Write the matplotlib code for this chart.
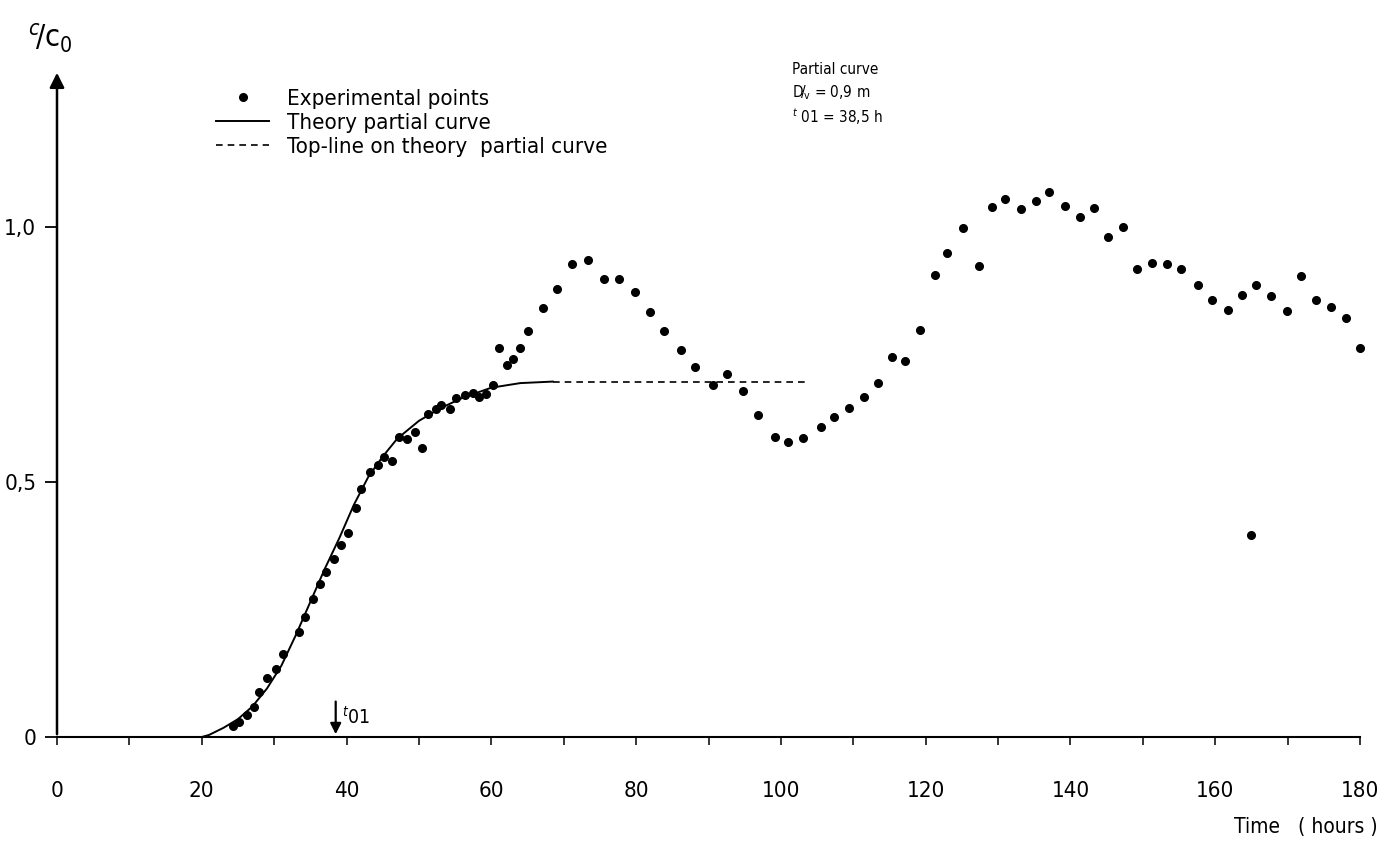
import matplotlib
matplotlib.use("Agg")
import matplotlib.pyplot as plt

plt.rcParams['font.family'] = ['DejaVu Sans']
plt.rcParams['font.stretch'] = 'condensed'

# Experimental points (time in hours, C/C0)
exp_t = [24.3, 25.2, 26.3, 27.2, 27.9, 29.0, 30.2, 31.2, 33.4, 34.2, 35.3, 36.3,
         37.2, 38.2, 39.3, 40.2, 41.3, 42.0, 43.2, 44.3, 45.2, 46.3, 47.3, 48.3,
         49.4, 50.4, 51.2, 52.3, 53.0, 54.3, 55.1, 56.3, 57.4, 58.3, 59.3, 60.2,
         61.1, 62.2, 63.0, 64.0, 65.1, 67.1, 69.1, 71.1, 73.4, 75.5, 77.6, 79.9,
         81.9, 83.9, 86.2, 88.2, 90.6, 92.6, 94.7, 96.8, 99.2, 101.0, 103.1, 105.6,
         107.3, 109.4, 111.5, 113.4, 115.4, 117.2, 119.2, 121.3, 123.0, 125.2, 127.3,
         129.1, 131.0, 133.2, 135.3, 137.1, 139.2, 141.3, 143.2, 145.2, 147.2, 149.2,
         151.2, 153.3, 155.3, 157.6, 159.6, 161.7, 163.7, 165.7, 167.7, 169.9, 171.8,
         173.9, 176.0, 178.0, 180.0, 165.0]
exp_c = [0.022, 0.030, 0.044, 0.059, 0.088, 0.115, 0.134, 0.162, 0.205, 0.236, 0.271, 0.300,
         0.323, 0.350, 0.377, 0.401, 0.450, 0.486, 0.519, 0.534, 0.550, 0.541, 0.588, 0.585,
         0.598, 0.566, 0.634, 0.644, 0.652, 0.644, 0.664, 0.671, 0.675, 0.666, 0.672, 0.690,
         0.763, 0.729, 0.742, 0.762, 0.796, 0.842, 0.878, 0.927, 0.935, 0.899, 0.898, 0.872,
         0.833, 0.796, 0.759, 0.726, 0.690, 0.712, 0.678, 0.631, 0.588, 0.578, 0.586, 0.607,
         0.627, 0.646, 0.666, 0.695, 0.745, 0.738, 0.799, 0.906, 0.950, 0.999, 0.924,
         1.039, 1.055, 1.036, 1.052, 1.069, 1.042, 1.020, 1.037, 0.981, 1.001, 0.917,
         0.929, 0.927, 0.918, 0.887, 0.856, 0.838, 0.867, 0.887, 0.864, 0.835, 0.904,
         0.856, 0.843, 0.822, 0.763, 0.396]

# Theory partial curve
theory_t = [0, 20, 21, 23, 25, 27, 29, 31, 33, 35, 37, 39, 41, 43, 45, 47, 50, 53, 56, 60, 64, 68.5]
theory_c = [0, 0, 0.004, 0.018, 0.035, 0.060, 0.095, 0.14, 0.20, 0.265, 0.33, 0.39, 0.455,
            0.51, 0.55, 0.585, 0.62, 0.645, 0.665, 0.685, 0.694, 0.697]

# Top-line on theory partial curve
top_t = [68.5, 103.5]
top_c = [0.697, 0.697]

t01 = 38.5

fig = plt.figure(figsize=(13.82, 8.43), dpi=100)
ax = fig.add_axes([57 / 1382, 106 / 843, (1360 - 57) / 1382, (737 - 70) / 843])
ax.set_xlim(0, 180)
ax.set_ylim(0, 1.308)

pts, = ax.plot(exp_t, exp_c, 'o', color='black', markersize=5.5, linestyle='none',
               label='Experimental points', clip_on=False)
th, = ax.plot(theory_t, theory_c, '-', color='black', lw=1.4, label='Theory partial curve')
tl, = ax.plot(top_t, top_c, color='black', lw=1.2, linestyle=(0, (4, 3)),
              label='Top-line on theory  partial curve')

# axes styling
for s in ['top', 'right', 'left']:
    ax.spines[s].set_visible(False)
ax.spines['bottom'].set_linewidth(1.5)
ax.annotate('', xy=(0, 1.308), xytext=(0, 0), xycoords='data',
            arrowprops=dict(arrowstyle='-|>', color='black', lw=1.8, mutation_scale=22),
            annotation_clip=False)

ax.set_xticks(range(0, 181, 10))
ax.set_xticklabels([str(v) if v % 20 == 0 else '' for v in range(0, 181, 10)])
ax.tick_params(axis='x', direction='out', length=6, width=1.1, pad=26, labelsize=16)
ax.set_yticks([0, 0.5, 1.0])
ax.set_yticklabels(['0', '0,5', '1,0'])
ax.tick_params(axis='y', direction='out', length=9, width=1.3, pad=6, labelsize=16)

fig.text(1378 / 1382, 6 / 843, 'Time   ( hours )', ha='right', va='bottom', fontsize=15)
fig.text(28 / 1382, 805 / 843, r'$^{c}\!/\mathregular{c_{0}}$', ha='left', va='center', fontsize=22)

# t01 marker
ax.annotate('', xy=(t01, 0), xytext=(t01, 0.075),
            arrowprops=dict(arrowstyle='-|>', color='black', lw=1.6, mutation_scale=16))
ax.text(t01 + 0.9, 0.04, r'$^{t}$01', fontsize=14, ha='left', va='center')

# partial curve annotation
fig.text(792 / 1382, 773 / 843, 'Partial curve', fontsize=11, ha='left', va='center')
fig.text(792 / 1382, 750 / 843, r'D$\!/_{\!\mathregular{v}}$ = 0,9 m', fontsize=11, ha='left', va='center')
fig.text(792 / 1382, 726 / 843, r'$^{t}$ 01 = 38,5 h', fontsize=11, ha='left', va='center')

ax.legend(handles=[pts, th, tl], loc='upper left', bbox_to_anchor=(150 / 1303, 1 - 10 / 667),
          frameon=False, fontsize=16, handlelength=2.4, handletextpad=0.8,
          labelspacing=0.18, borderaxespad=0, markerfirst=True)

fig.savefig('out.png', dpi=100)
